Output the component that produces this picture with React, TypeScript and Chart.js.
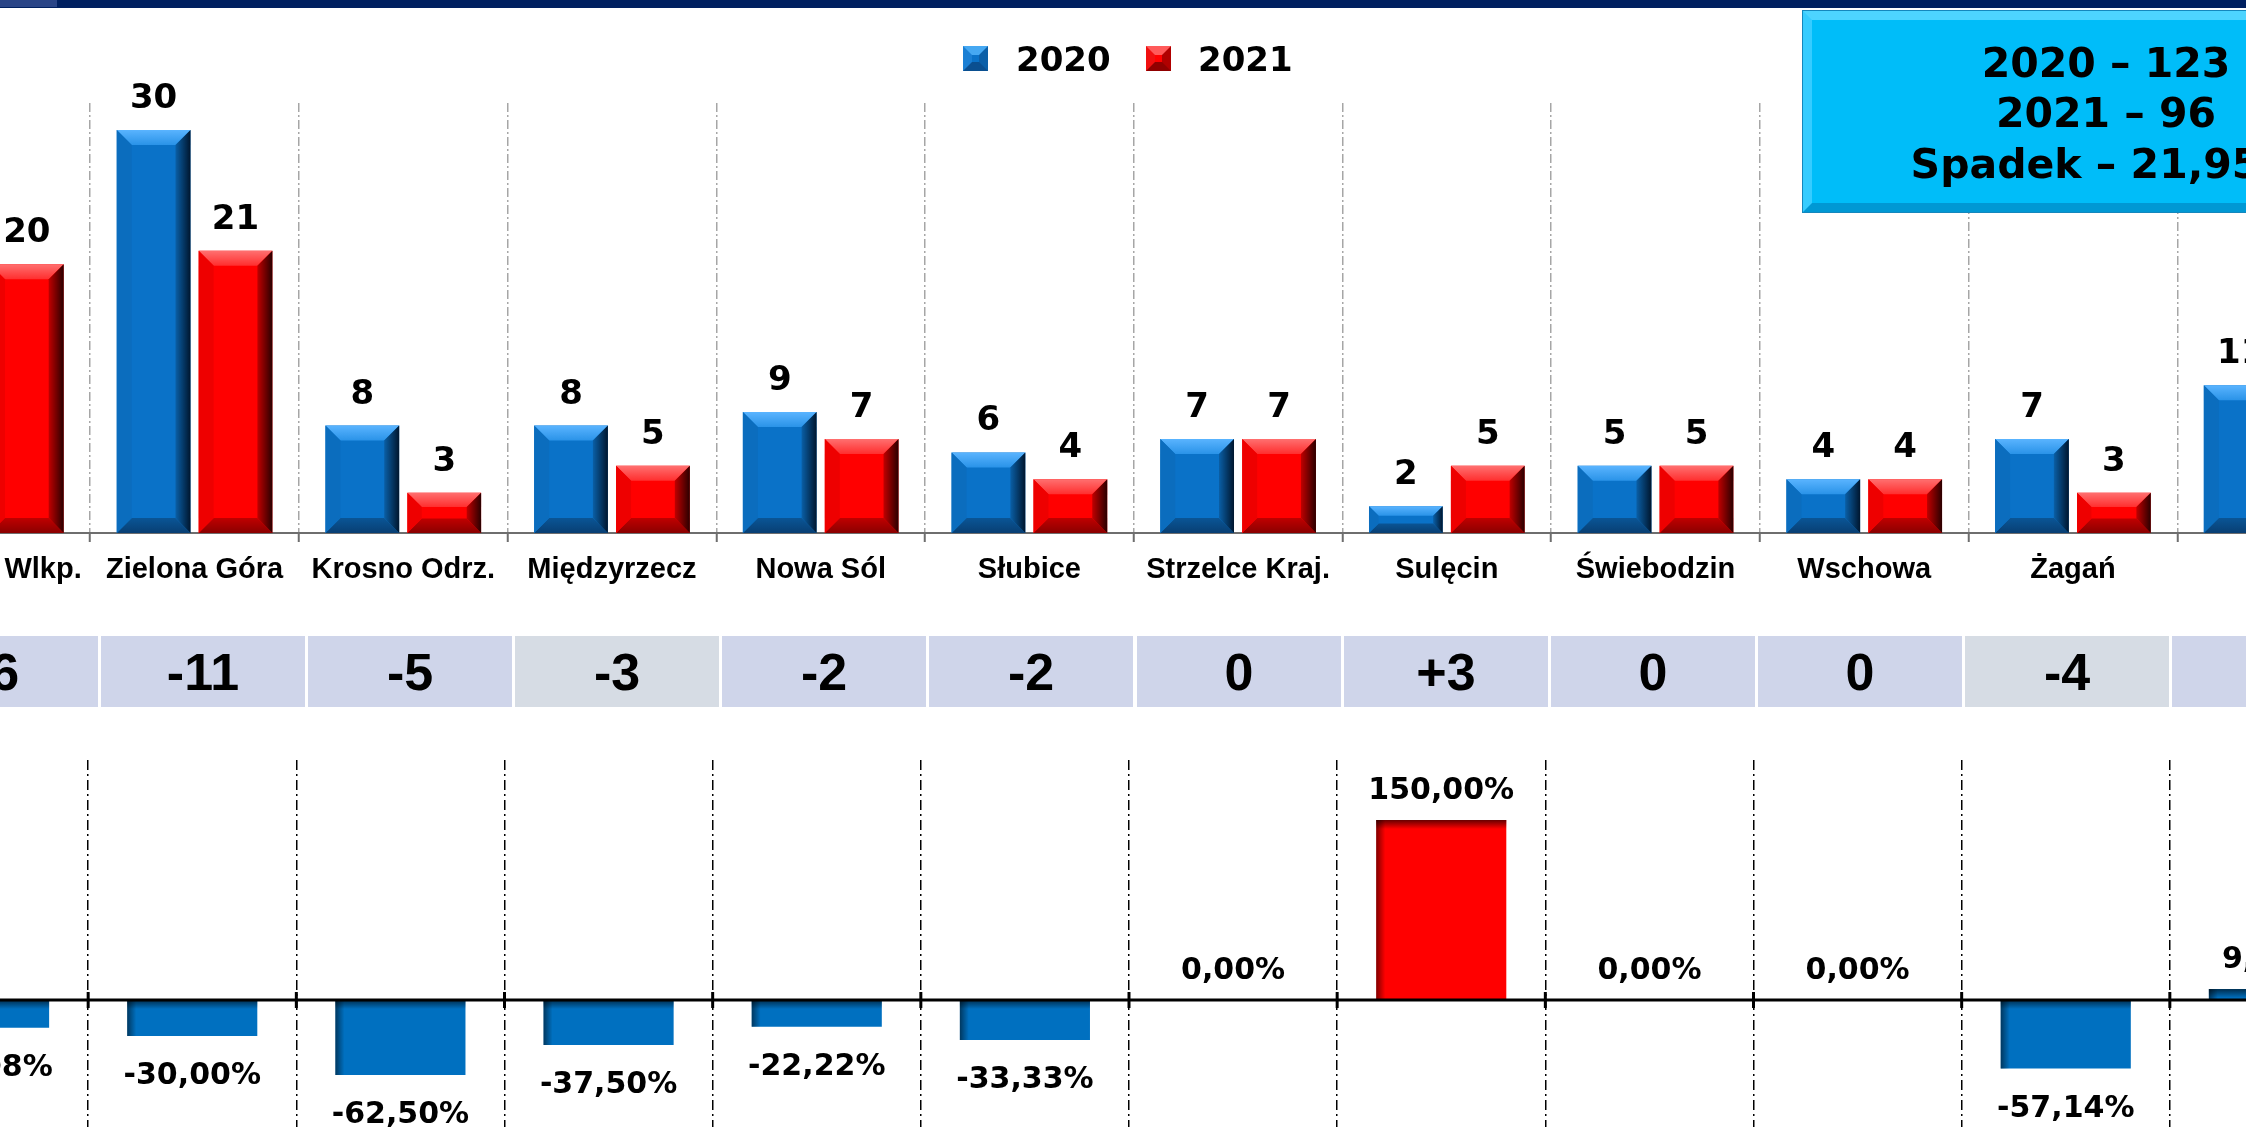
import React, { useEffect, useRef } from "react";
import { Chart, registerables } from "chart.js";

Chart.register(...registerables);

// ---------- data ----------
const categories = [
  "Gorzów Wlkp.",
  "Zielona Góra",
  "Krosno Odrz.",
  "Międzyrzecz",
  "Nowa Sól",
  "Słubice",
  "Strzelce Kraj.",
  "Sulęcin",
  "Świebodzin",
  "Wschowa",
  "Żagań",
  "Żary",
];
const seriesLabels = ["2020", "2021"];
const values2020 = [26, 30, 8, 8, 9, 6, 7, 2, 5, 4, 7, 11];
const values2021 = [20, 21, 3, 5, 7, 4, 7, 5, 5, 4, 3, 12];
const differences = ["-6", "-11", "-5", "-3", "-2", "-2", "0", "+3", "0", "0", "-4", "+1"];
const changePercent = [-23.08, -30.0, -62.5, -37.5, -22.22, -33.33, 0, 150.0, 0, 0, -57.14, 9.09];
const summaryLines = ["2020 – 123", "2021 – 96", "Spadek – 21,95%"];

// ---------- styles ----------
const BLUE = "#0A72C8";
const RED = "#FF0000";
const BLUE_FLAT = "#0070C0";
const FONT = "'DejaVu Sans'";
const LABEL_FONT = "'Liberation Sans'";

const palettes: any = {
  blue: { top0: "#5AB4FF", top1: "#2A93E8", left: "#0B6DBE", right0: "#0A5FA6", right1: "#00162E", bot0: "#0A5596", bot1: "#083F73" },
  red: { top0: "#FF7070", top1: "#FF2E2E", left: "#EE0000", right0: "#C00000", right1: "#2A0000", bot0: "#C00000", bot1: "#8A0000" },
};

function poly(ctx: any, pts: number[][], fill: any) {
  ctx.beginPath();
  ctx.moveTo(pts[0][0], pts[0][1]);
  for (let i = 1; i < pts.length; i++) ctx.lineTo(pts[i][0], pts[i][1]);
  ctx.closePath();
  ctx.fillStyle = fill;
  ctx.fill();
}

function drawBevel(ctx: any, left: number, top: number, right: number, bottom: number, pal: any) {
  const h = bottom - top;
  const w = right - left;
  if (h <= 0) return;
  const b = Math.min(15, h / 2.8, w / 2);
  let g = ctx.createLinearGradient(0, top, 0, top + b);
  g.addColorStop(0, pal.top0);
  g.addColorStop(1, pal.top1);
  poly(ctx, [[left, top], [right, top], [right - b, top + b], [left + b, top + b]], g);
  g = ctx.createLinearGradient(0, bottom - b, 0, bottom);
  g.addColorStop(0, pal.bot0);
  g.addColorStop(1, pal.bot1);
  poly(ctx, [[left, bottom], [right, bottom], [right - b, bottom - b], [left + b, bottom - b]], g);
  poly(ctx, [[left, top], [left + b, top + b], [left + b, bottom - b], [left, bottom]], pal.left);
  g = ctx.createLinearGradient(right - b, 0, right, 0);
  g.addColorStop(0, pal.right0);
  g.addColorStop(1, pal.right1);
  poly(ctx, [[right, top], [right - b, top + b], [right - b, bottom - b], [right, bottom]], g);
}

const bevelPlugin = {
  id: "bevel",
  afterDatasetsDraw(chart: any) {
    const ctx = chart.ctx;
    ctx.save();
    chart.data.datasets.forEach((_ds: any, di: number) => {
      const meta = chart.getDatasetMeta(di);
      const pal = di === 0 ? palettes.blue : palettes.red;
      meta.data.forEach((bar: any) => {
        const { x, y, base, width } = bar.getProps(["x", "y", "base", "width"], true);
        drawBevel(ctx, x - width / 2, Math.min(y, base), x + width / 2, Math.max(y, base), pal);
      });
    });
    ctx.restore();
  },
};

const topLabelsPlugin = {
  id: "topLabels",
  afterDatasetsDraw(chart: any) {
    const ctx = chart.ctx;
    ctx.save();
    ctx.font = `bold 34px ${FONT}`;
    ctx.fillStyle = "#000";
    ctx.textAlign = "center";
    ctx.textBaseline = "alphabetic";
    chart.data.datasets.forEach((ds: any, di: number) => {
      const meta = chart.getDatasetMeta(di);
      meta.data.forEach((bar: any, i: number) => {
        const { x, y } = bar.getProps(["x", "y"], true);
        ctx.fillText(String(ds.data[i]), x, y - 22);
      });
    });
    ctx.restore();
  },
};

const shadowPlugin = {
  id: "innerShadow",
  afterDatasetsDraw(chart: any) {
    const ctx = chart.ctx;
    ctx.save();
    const meta = chart.getDatasetMeta(0);
    meta.data.forEach((bar: any) => {
      const { x, y, base, width } = bar.getProps(["x", "y", "base", "width"], true);
      const left = x - width / 2;
      const top = Math.min(y, base);
      const h = Math.abs(base - y);
      if (h < 0.5) return;
      const s = 9;
      let g = ctx.createLinearGradient(0, top, 0, top + s);
      g.addColorStop(0, "rgba(0,0,0,0.6)");
      g.addColorStop(1, "rgba(0,0,0,0)");
      ctx.fillStyle = g;
      ctx.fillRect(left, top, width, Math.min(s, h));
      g = ctx.createLinearGradient(left, 0, left + s, 0);
      g.addColorStop(0, "rgba(0,0,0,0.5)");
      g.addColorStop(1, "rgba(0,0,0,0)");
      ctx.fillStyle = g;
      ctx.fillRect(left, top, s, h);
    });
    ctx.restore();
  },
};

const zeroLinePlugin = {
  id: "zeroLine",
  afterDatasetsDraw(chart: any) {
    const ctx = chart.ctx;
    const xs = chart.scales.x;
    const ys = chart.scales.y;
    const y0 = ys.getPixelForValue(0);
    ctx.save();
    ctx.strokeStyle = "#000";
    ctx.lineWidth = 3;
    ctx.beginPath();
    ctx.moveTo(chart.chartArea.left, y0);
    ctx.lineTo(chart.chartArea.right, y0);
    ctx.stroke();
    for (let i = 0; i <= categories.length; i++) {
      const x = xs.getPixelForValue(i - 0.5);
      ctx.beginPath();
      ctx.moveTo(x, y0 - 8);
      ctx.lineTo(x, y0 + 8);
      ctx.stroke();
    }
    ctx.restore();
  },
};

const fmtPct = (v: number) => v.toFixed(2).replace(".", ",") + "%";

const pctLabelsPlugin = {
  id: "pctLabels",
  afterDatasetsDraw(chart: any) {
    const ctx = chart.ctx;
    ctx.save();
    ctx.font = `bold 30px ${FONT}`;
    ctx.fillStyle = "#000";
    ctx.textAlign = "center";
    ctx.textBaseline = "alphabetic";
    const meta = chart.getDatasetMeta(0);
    const data = chart.data.datasets[0].data;
    meta.data.forEach((bar: any, i: number) => {
      const { x, y } = bar.getProps(["x", "y"], true);
      const v = data[i];
      ctx.fillText(fmtPct(v), x, v >= 0 ? y - 21 : y + 48);
    });
    ctx.restore();
  },
};

// ---------- components ----------
function TopChart() {
  const ref = useRef<HTMLCanvasElement | null>(null);
  useEffect(() => {
    const chart = new Chart(ref.current as any, {
      type: "bar",
      data: {
        labels: categories,
        datasets: [
          { label: seriesLabels[0], data: values2020, backgroundColor: BLUE, borderWidth: 0 },
          { label: seriesLabels[1], data: values2021, backgroundColor: RED, borderWidth: 0 },
        ],
      },
      options: {
        animation: false,
        responsive: false,
        maintainAspectRatio: false,
        layout: { padding: { top: 103, left: 0, right: 0, bottom: 0 } },
        datasets: { bar: { categoryPercentage: 0.785, barPercentage: 0.9 } } as any,
        plugins: { legend: { display: false }, tooltip: { enabled: false } },
        scales: {
          x: {
            grid: {
              display: true,
              offset: true,
              color: "#A6A6A6",
              lineWidth: 1.5,
              drawTicks: true,
              tickLength: 9,
              tickColor: "#6E6E6E",
              tickWidth: 2,
              tickBorderDash: [],
            } as any,
            border: { display: true, color: "#6E6E6E", width: 2, dash: [9, 3, 2, 3] },
            ticks: {
              autoSkip: false,
              maxRotation: 0,
              minRotation: 0,
              padding: 11,
              color: "#000",
              font: { family: LABEL_FONT, weight: "bold", size: 29 },
            },
            afterFit: (s: any) => {
              s.height = 60;
            },
          },
          y: { display: false, min: 0, max: 32 },
        },
      },
      plugins: [bevelPlugin, topLabelsPlugin],
    } as any);
    return () => chart.destroy();
  }, []);
  return (
    <canvas
      ref={ref}
      width={2507}
      height={593}
      style={{ position: "absolute", left: -121, top: 0, width: 2507, height: 593 }}
    />
  );
}

function BottomChart() {
  const ref = useRef<HTMLCanvasElement | null>(null);
  useEffect(() => {
    const chart = new Chart(ref.current as any, {
      type: "bar",
      data: {
        labels: categories,
        datasets: [
          {
            label: "Zmiana %",
            data: changePercent,
            backgroundColor: changePercent.map((v) => (v > 100 ? RED : BLUE_FLAT)),
            borderWidth: 0,
            categoryPercentage: 1,
            barPercentage: 0.625,
          },
        ],
      },
      options: {
        animation: false,
        responsive: false,
        maintainAspectRatio: false,
        layout: { padding: { top: 20, left: 0, right: 0, bottom: 0 } },
        plugins: { legend: { display: false }, tooltip: { enabled: false } },
        scales: {
          x: {
            grid: { display: true, offset: true, color: "#000", lineWidth: 1.5, drawTicks: false },
            border: { display: false, dash: [10, 4, 2, 4] },
            ticks: { display: false },
            afterFit: (s: any) => {
              s.height = 20;
            },
          },
          y: { display: false, min: -150, max: 200 },
        },
      },
      plugins: [shadowPlugin, zeroLinePlugin, pctLabelsPlugin],
    } as any);
    return () => chart.destroy();
  }, []);
  return (
    <canvas
      ref={ref}
      width={2498}
      height={460}
      style={{ position: "absolute", left: -120, top: 740, width: 2498, height: 460 }}
    />
  );
}

function LegendSquare({ colors, left }: { colors: any; left: number }) {
  return (
    <div
      style={{
        position: "absolute",
        left,
        top: 46,
        width: 25,
        height: 25,
        boxSizing: "border-box",
        borderStyle: "solid",
        borderWidth: 9,
        borderTopColor: colors.top,
        borderLeftColor: colors.left,
        borderRightColor: colors.right,
        borderBottomColor: colors.bottom,
        background: colors.face,
      }}
    />
  );
}

export default function App() {
  const grayCells = [3, 10];
  return (
    <div
      style={{
        position: "fixed",
        left: 0,
        top: 0,
        width: 2246,
        height: 1127,
        overflow: "hidden",
        background: "#fff",
      }}
    >
      <TopChart />
      <BottomChart />

      {/* top navy strip */}
      <div style={{ position: "absolute", left: 0, top: 0, width: 2246, height: 8, background: "#002060" }} />
      <div style={{ position: "absolute", left: 0, top: 0, width: 57, height: 7, background: "#2A4587" }} />

      {/* legend */}
      <LegendSquare
        left={963}
        colors={{ top: "#45A8F2", left: "#1A7FD4", right: "#0B5FA8", bottom: "#0A4F90", face: "#0A72C8" }}
      />
      <div
        style={{
          position: "absolute",
          left: 1016,
          top: 42,
          font: `bold 34px ${FONT}`,
          lineHeight: "34px",
          color: "#000",
          whiteSpace: "nowrap",
        }}
      >
        {seriesLabels[0]}
      </div>
      <LegendSquare
        left={1146}
        colors={{ top: "#FF5A5A", left: "#F01010", right: "#B00000", bottom: "#900000", face: "#FF0000" }}
      />
      <div
        style={{
          position: "absolute",
          left: 1198,
          top: 42,
          font: `bold 34px ${FONT}`,
          lineHeight: "34px",
          color: "#000",
          whiteSpace: "nowrap",
        }}
      >
        {seriesLabels[1]}
      </div>

      {/* summary box */}
      <div
        style={{
          position: "absolute",
          left: 1803,
          top: 11,
          width: 606,
          height: 201,
          boxSizing: "border-box",
          paddingTop: 4,
          background: "#00BDF9",
          borderStyle: "solid",
          borderWidth: 9,
          borderTopColor: "#4DD4FF",
          borderLeftColor: "#36CCFF",
          borderBottomColor: "#0098D4",
          borderRightColor: "#0098D4",
          boxShadow: "0 0 0 1px #1487BD",
          display: "flex",
          flexDirection: "column",
          justifyContent: "center",
          alignItems: "center",
          font: `bold 41px ${FONT}`,
          lineHeight: "50.5px",
          color: "#000",
          whiteSpace: "nowrap",
        }}
      >
        {summaryLines.map((t, i) => (
          <div key={i}>{t}</div>
        ))}
      </div>

      {/* difference band */}
      {differences.map((d, i) => (
        <div
          key={i}
          style={{
            position: "absolute",
            left: Math.round(101 + (i - 1) * 207.1),
            top: 636,
            width: 204,
            height: 71,
            background: grayCells.includes(i) ? "#D6DCE4" : "#CFD5EA",
            display: "flex",
            alignItems: "center",
            justifyContent: "center",
            font: "bold 52px 'Liberation Sans'",
            lineHeight: "52px",
            color: "#000",
          }}
        >
          {d}
        </div>
      ))}
    </div>
  );
}
